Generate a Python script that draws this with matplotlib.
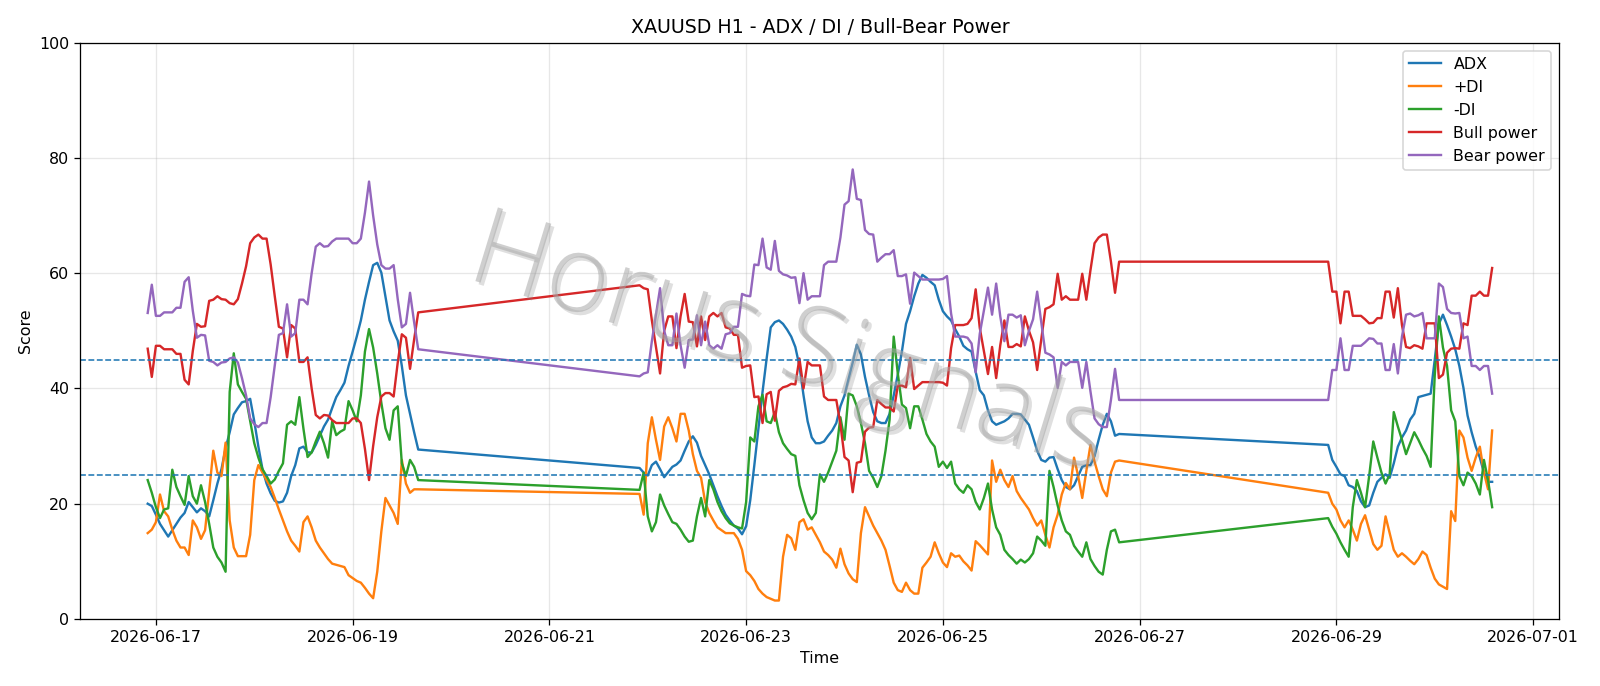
import pandas as pd
import matplotlib
matplotlib.use('Agg')
import matplotlib.pyplot as plt
import matplotlib.patheffects as pe

# hourly readings, three trading blocks (weekends skipped)
start_a = '2026-06-16 22:00'
start_b = '2026-06-21 22:00'
start_c = '2026-06-28 22:00'

adx_a = [20.0, 19.6, 18.1, 16.5, 15.4, 14.3, 15.4, 16.5, 17.6, 18.4,
         20.3, 19.4, 18.5, 19.2, 18.7, 17.8, 20.6, 23.5, 26.0, 29.6,
         32.4, 35.5, 36.6, 37.6, 37.8, 38.2, 34.3, 29.9, 26.0, 23.5,
         21.8, 20.5, 20.2, 20.4, 21.9, 24.8, 26.7, 29.6, 29.9, 28.9,
         28.9, 30.2, 31.8, 33.4, 34.6, 36.6, 38.5, 39.7, 41.0, 43.9,
         46.4, 49.0, 51.8, 55.4, 58.5, 61.4, 61.8, 60.1, 56.0, 51.8,
         49.9, 48.3, 43.9, 38.8, 35.6, 32.4, 29.4]
adx_b = [26.2, 25.4, 24.9, 26.7, 27.3, 26.0, 24.6, 25.5, 26.4, 26.8,
         27.5, 29.2, 30.8, 31.7, 30.6, 28.3, 26.7, 25.1, 23.2, 21.3,
         19.6, 18.1, 17.1, 16.2, 15.7, 14.7, 16.1, 20.6, 26.7, 33.1,
         39.4, 45.2, 50.6, 51.5, 51.8, 51.2, 50.2, 49.0, 47.2, 43.9,
         38.8, 34.3, 31.5, 30.5, 30.5, 30.8, 31.8, 32.7, 34.0, 36.9,
         38.8, 41.7, 44.5, 47.6, 45.9, 42.0, 38.8, 35.9, 34.3, 34.0,
         34.0, 35.6, 38.8, 42.4, 46.4, 51.2, 53.4, 56.0, 58.2, 59.7,
         59.2, 58.5, 57.9, 55.4, 53.4, 52.5, 51.8, 50.3, 49.0, 47.4,
         46.8, 46.4, 42.9, 39.7, 38.8, 36.2, 34.3, 33.7, 34.0, 34.3,
         34.8, 35.6, 35.6, 35.5, 34.6, 33.7, 31.5, 29.2, 27.6, 27.3,
         28.0, 28.1, 26.0, 24.1, 22.9, 22.5, 23.2, 24.8, 26.4, 26.7,
         26.7, 28.3, 31.1, 33.7, 35.6, 34.3, 31.8, 32.1]
adx_c = [30.2, 27.6, 26.4, 25.1, 24.8, 23.2, 22.9, 22.2, 20.4, 19.4,
         19.7, 21.9, 23.8, 24.5, 25.1, 24.5, 27.0, 29.9, 31.5, 32.7,
         34.6, 35.6, 38.5, 38.7, 38.9, 39.1, 45.0, 51.2, 52.8, 51.0,
         49.0, 46.8, 43.9, 40.1, 35.3, 32.4, 29.9, 28.0, 25.4, 23.8,
         23.8]

pdi_a = [14.9, 15.5, 16.8, 21.6, 18.7, 17.8, 15.5, 13.6, 12.4, 12.4,
         11.1, 17.1, 15.9, 13.9, 15.4, 22.2, 29.2, 25.4, 24.8, 30.6,
         17.1, 12.4, 10.9, 10.9, 10.9, 14.6, 24.1, 26.7, 25.4, 24.1,
         22.9, 21.0, 19.0, 17.1, 15.2, 13.6, 12.7, 11.7, 16.8, 17.8,
         15.9, 13.6, 12.4, 11.4, 10.4, 9.6, 9.4, 9.2, 9.0, 7.6,
         7.1, 6.6, 6.3, 5.4, 4.4, 3.6, 8.2, 15.2, 21.0, 19.7,
         18.4, 16.5, 27.6, 23.5, 21.9, 22.5, 22.5]
pdi_b = [21.7, 18.1, 30.5, 35.0, 31.1, 27.6, 33.4, 35.0, 33.1, 30.8,
         35.6, 35.6, 32.7, 28.6, 25.7, 24.5, 20.3, 18.4, 17.1, 15.9,
         15.4, 14.9, 14.9, 14.9, 13.9, 12.0, 8.3, 7.6, 6.6, 5.2,
         4.4, 3.8, 3.5, 3.2, 3.2, 10.8, 14.6, 14.0, 12.0, 16.8,
         17.3, 15.5, 15.9, 14.6, 13.3, 11.7, 11.1, 10.3, 8.9, 12.2,
         9.5, 7.9, 6.9, 6.4, 14.9, 19.4, 17.8, 16.2, 14.9, 13.6,
         12.0, 9.2, 6.3, 5.0, 4.7, 6.3, 5.0, 4.4, 4.4, 8.9,
         9.8, 10.8, 13.3, 11.4, 9.8, 9.0, 11.4, 10.8, 11.0, 10.0,
         9.3, 8.4, 13.5, 12.8, 12.0, 11.2, 27.5, 23.8, 25.9, 24.1,
         22.9, 24.8, 22.2, 21.0, 20.0, 19.0, 17.5, 16.2, 17.1, 14.6,
         12.4, 15.9, 18.1, 21.6, 23.6, 22.5, 28.0, 24.8, 21.0, 25.7,
         30.2, 27.3, 24.8, 22.5, 21.3, 25.4, 27.3, 27.5]
pdi_c = [21.9, 20.0, 19.0, 17.1, 15.9, 17.1, 15.5, 13.6, 16.5, 18.0,
         15.5, 13.0, 12.0, 12.7, 17.8, 14.9, 12.0, 10.8, 11.4, 10.8,
         10.1, 9.5, 10.4, 11.7, 11.1, 8.9, 7.0, 6.0, 5.6, 5.2,
         18.7, 17.0, 32.7, 31.5, 28.0, 25.7, 28.0, 29.9, 25.4, 22.5,
         32.7]

mdi_a = [24.1, 21.9, 19.4, 17.5, 19.0, 19.2, 25.9, 22.9, 21.3, 19.8,
         24.8, 21.3, 20.0, 23.2, 20.3, 16.5, 12.4, 10.8, 9.8, 8.2,
         39.4, 46.1, 40.7, 39.4, 38.2, 34.3, 30.5, 28.0, 26.0, 24.8,
         23.5, 24.2, 25.7, 27.0, 33.7, 34.3, 33.7, 38.5, 33.0, 28.1,
         28.9, 30.8, 32.5, 30.5, 28.0, 34.3, 31.9, 32.5, 32.9, 37.8,
         36.2, 34.3, 38.8, 46.4, 50.3, 47.1, 42.6, 37.5, 33.1, 31.1,
         36.2, 36.9, 27.0, 24.8, 27.6, 26.4, 24.1]
mdi_b = [22.4, 25.4, 17.8, 15.2, 16.8, 21.6, 19.7, 18.2, 16.8, 16.5,
         15.5, 14.3, 13.4, 13.6, 17.8, 21.0, 17.8, 24.1, 22.5, 20.3,
         18.7, 17.5, 16.6, 16.2, 15.9, 15.7, 20.3, 31.5, 30.8, 36.9,
         38.9, 34.3, 34.0, 35.9, 32.4, 30.5, 29.5, 28.6, 28.3, 23.2,
         20.6, 18.4, 17.3, 18.4, 25.1, 23.8, 25.4, 27.3, 29.2, 35.0,
         31.1, 39.1, 38.8, 36.9, 34.0, 30.5, 25.7, 24.5, 22.9, 24.8,
         29.2, 34.6, 49.0, 42.6, 37.2, 36.6, 33.1, 36.9, 36.9, 34.6,
         32.1, 30.8, 29.9, 26.4, 27.3, 26.2, 27.3, 23.5, 22.5, 21.9,
         23.2, 22.5, 20.3, 19.0, 21.0, 23.5, 19.0, 15.9, 14.6, 12.0,
         11.1, 10.4, 9.6, 10.3, 9.8, 10.4, 11.4, 14.3, 13.6, 12.7,
         25.7, 22.9, 19.7, 17.1, 15.2, 14.6, 12.7, 11.7, 10.8, 13.3,
         10.4, 9.2, 8.2, 7.7, 12.0, 15.2, 15.5, 13.3]
mdi_c = [17.5, 16.0, 14.8, 13.3, 12.0, 10.8, 19.4, 24.1, 21.9, 19.4,
         24.8, 30.8, 28.0, 25.4, 23.5, 25.1, 35.9, 33.4, 31.1, 28.6,
         30.5, 32.4, 31.1, 29.6, 28.3, 26.4, 42.3, 52.5, 47.1, 43.9,
         36.2, 34.3, 24.8, 23.2, 25.4, 24.8, 23.5, 21.6, 27.6, 24.1,
         19.4]

bull_a = [46.9, 42.0, 47.4, 47.4, 46.8, 46.8, 46.8, 46.0, 46.0, 41.5,
          40.7, 46.5, 51.2, 50.7, 50.8, 55.2, 55.4, 56.0, 55.5, 55.4,
          54.8, 54.6, 55.5, 58.2, 61.2, 65.2, 66.2, 66.7, 66.0, 66.0,
          61.5, 56.0, 50.7, 50.4, 45.4, 51.0, 50.4, 44.6, 44.6, 45.4,
          40.0, 35.4, 34.8, 35.4, 35.3, 34.5, 34.0, 34.0, 34.0, 34.0,
          34.8, 34.8, 34.0, 29.5, 24.1, 30.0, 35.0, 38.6, 39.2, 39.2,
          38.6, 44.5, 49.4, 48.8, 43.4, 48.5, 53.2]
bull_b = [57.9, 57.4, 57.2, 51.8, 47.2, 42.6, 50.0, 52.5, 52.5, 47.0,
          52.5, 56.4, 51.6, 51.5, 47.3, 52.5, 48.4, 52.5, 53.1, 52.5,
          53.1, 50.6, 50.4, 49.3, 49.3, 43.6, 43.9, 44.0, 38.5, 38.6,
          34.0, 39.0, 39.4, 34.4, 39.6, 40.2, 40.4, 40.8, 40.7, 45.2,
          40.0, 44.6, 44.0, 44.0, 44.0, 38.6, 38.0, 38.0, 38.0, 33.8,
          28.1, 27.5, 22.0, 27.1, 27.3, 32.5, 33.2, 33.3, 38.0, 37.3,
          36.7, 36.7, 36.0, 40.5, 40.5, 40.2, 45.3, 39.9, 40.5, 41.1,
          41.1, 41.1, 41.1, 41.1, 41.0, 40.5, 47.0, 51.0, 51.0, 51.0,
          51.2, 52.2, 57.2, 50.5, 46.5, 42.5, 47.2, 41.8, 47.5, 51.8,
          47.2, 47.2, 47.7, 47.3, 52.5, 50.0, 48.0, 43.2, 48.5, 53.8,
          54.1, 54.6, 59.9, 55.4, 56.0, 55.4, 55.4, 55.4, 59.9, 55.4,
          60.5, 65.2, 66.2, 66.7, 66.7, 62.0, 56.6, 62.0]
bull_c = [62.0, 56.8, 56.8, 51.3, 56.8, 56.8, 52.6, 52.6, 52.6, 52.0,
          51.3, 51.4, 52.2, 52.2, 56.8, 56.8, 52.3, 57.4, 51.0, 47.2,
          47.0, 47.5, 47.3, 46.9, 51.3, 51.3, 51.3, 41.8, 42.4, 46.2,
          46.9, 47.0, 46.9, 51.3, 51.0, 56.1, 56.1, 56.8, 56.1, 56.1,
          60.9]

bear_a = [53.1, 58.0, 52.6, 52.6, 53.2, 53.2, 53.2, 54.0, 54.0, 58.5,
          59.3, 53.5, 48.8, 49.3, 49.2, 44.8, 44.6, 44.0, 44.5, 44.6,
          45.2, 45.4, 44.5, 41.8, 38.8, 34.8, 33.8, 33.3, 34.0, 34.0,
          38.5, 44.0, 49.3, 49.6, 54.6, 49.0, 49.6, 55.4, 55.4, 54.6,
          60.0, 64.6, 65.2, 64.6, 64.7, 65.5, 66.0, 66.0, 66.0, 66.0,
          65.2, 65.2, 66.0, 70.5, 75.9, 70.0, 65.0, 61.4, 60.8, 60.8,
          61.4, 55.5, 50.6, 51.2, 56.6, 51.5, 46.8]
bear_b = [42.1, 42.6, 42.8, 48.2, 52.8, 57.4, 50.0, 47.5, 47.5, 53.0,
          47.5, 43.6, 48.4, 48.5, 52.7, 47.5, 51.6, 47.5, 46.9, 47.5,
          46.9, 49.4, 49.6, 50.7, 50.7, 56.4, 56.1, 56.0, 61.5, 61.4,
          66.0, 61.0, 60.6, 65.6, 60.4, 59.8, 59.6, 59.2, 59.3, 54.8,
          60.0, 55.4, 56.0, 56.0, 56.0, 61.4, 62.0, 62.0, 62.0, 66.2,
          71.9, 72.5, 78.0, 72.9, 72.7, 67.5, 66.8, 66.7, 62.0, 62.7,
          63.3, 63.3, 64.0, 59.5, 59.5, 59.8, 54.7, 60.1, 59.5, 58.9,
          58.9, 58.9, 58.9, 58.9, 59.0, 59.5, 53.0, 49.0, 49.0, 49.0,
          48.8, 47.8, 42.8, 49.5, 53.5, 57.5, 52.8, 58.2, 52.5, 48.2,
          52.8, 52.8, 52.3, 52.7, 47.5, 50.0, 52.0, 56.8, 51.5, 46.2,
          45.9, 45.4, 40.1, 44.6, 44.0, 44.6, 44.6, 44.6, 40.1, 44.6,
          39.5, 34.8, 33.8, 33.3, 33.3, 38.0, 43.4, 38.0]
bear_c = [38.0, 43.2, 43.2, 48.7, 43.2, 43.2, 47.4, 47.4, 47.4, 48.0,
          48.7, 48.6, 47.8, 47.8, 43.2, 43.2, 47.7, 42.6, 49.0, 52.8,
          53.0, 52.5, 52.7, 53.1, 48.7, 48.7, 48.7, 58.2, 57.6, 53.8,
          53.1, 53.0, 53.1, 48.7, 49.0, 43.9, 43.9, 43.2, 43.9, 43.9,
          39.1]

LEVELS = [45, 25]

# time axis: hourly bars per block
t_a = pd.date_range(start_a, periods=len(adx_a), freq='h')
t_b = pd.date_range(start_b, periods=len(adx_b), freq='h')
t_c = pd.date_range(start_c, periods=len(adx_c), freq='h')
times = t_a.append(t_b).append(t_c)

series = [
    ('ADX', adx_a + adx_b + adx_c),
    ('+DI', pdi_a + pdi_b + pdi_c),
    ('-DI', mdi_a + mdi_b + mdi_c),
    ('Bull power', bull_a + bull_b + bull_c),
    ('Bear power', bear_a + bear_b + bear_c),
]

DPI = 1600 / 14
fig = plt.figure(figsize=(14, 6.0025), dpi=DPI)
ax = fig.add_axes([0.0503, 0.0977, 0.9243, 0.8401])

for name, vals in series:
    ax.plot(times, vals, label=name, linewidth=1.5)

for lv in LEVELS:
    ax.axhline(lv, color='C0', linestyle='--', linewidth=1.0)

ax.set_ylim(0, 100)
ax.set_title('XAUUSD H1 - ADX / DI / Bull-Bear Power')
ax.set_xlabel('Time')
ax.set_ylabel('Score')
ax.grid(True, alpha=0.3)
ax.legend(loc='upper right')

# watermark: thin light grey letters with a soft shadow
fig.text(0.493, 0.494, 'Horus Signals', fontsize=68, color='#a8a8a8', alpha=0.55,
         rotation=-17, ha='center', va='center',
         family=['Open Sans', 'DejaVu Sans'], fontweight='light',
         path_effects=[pe.SimplePatchShadow(offset=(2, -2), shadow_rgbFace='#808080', alpha=0.25),
                       pe.Normal()])

fig.savefig('out.png', dpi=DPI)
plt.close(fig)
